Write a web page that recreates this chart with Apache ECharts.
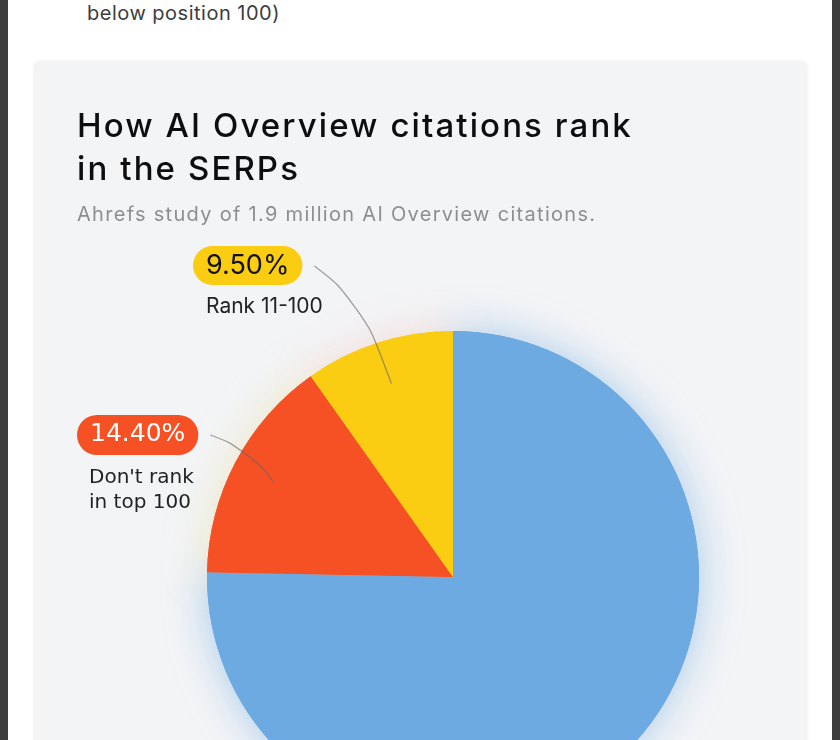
<!DOCTYPE html>
<html>
<head>
<meta charset="utf-8">
<script src="https://cdn.jsdelivr.net/npm/echarts@6/dist/echarts.min.js"></script>
<style>
  html, body { margin: 0; padding: 0; }
  body { width: 840px; height: 740px; overflow: hidden; position: relative; background: #fff; font-family: Inter, sans-serif; }
  .edge { position: absolute; top: 0; height: 740px; width: 8px; background: #3e3e3e; }
  .lead { position: absolute; left: 87px; top: 1px; margin: 0; font-size: 20px; line-height: 24px; letter-spacing: 0.5px; color: #3d3d3d; }
  #card { position: absolute; left: 35px; top: 62px; width: 771px; height: 900px; background: #f3f4f6;
          border-radius: 5px; box-shadow: 0 0 4px rgba(0, 0, 0, 0.12); }
  #chart { position: absolute; left: 0; top: 0; width: 771px; height: 900px; }
  .title { position: absolute; left: 42px; top: 42px; margin: 0; font-size: 33px; line-height: 43px; font-weight: 500;
           letter-spacing: 2.1px; color: #0e0e0e; z-index: 2; }
  .sub { position: absolute; left: 42px; top: 140px; margin: 0; font-size: 20px; line-height: 24px;
         letter-spacing: 1.3px; color: #8e8e8e; z-index: 2; }
</style>
</head>
<body>
<div class="edge" style="left:0"></div>
<div class="edge" style="left:832px"></div>
<p class="lead">below position 100)</p>
<div id="card">
  <div id="chart"></div>
  <h1 class="title">How AI Overview citations rank<br>in the SERPs</h1>
  <p class="sub">Ahrefs study of 1.9 million AI Overview citations.</p>
</div>
<script>
// slices, clockwise from 12 o'clock
const categories = ['Rank 1-10', "Don't rank\nin top 100", 'Rank 11-100'];
const shares = [72.9, 14.4, 9.5];

const sliceColors = ['#6CAAE1', '#F65124', '#FACC12'];
const glowColors = ['rgba(108,170,225,0.55)', 'rgba(236,222,150,0.5)', 'rgba(246,175,155,0.35)'];

// where each callout sits (top-left of its pill), in chart pixels
const callouts = {
  1: { x: 42, y: 353, pill: 'oPill', names: ['oName', 'oName2'], font: '25px "DejaVu Sans"' },
  2: { x: 158, y: 184, pill: 'yPill', names: ['yName'], font: '27px Inter' }
};

const measureCtx = document.createElement('canvas').getContext('2d');
function textWidth(text, font) {
  measureCtx.font = font;
  return measureCtx.measureText(text).width;
}
const pct = v => v.toFixed(2) + '%';

const center = [418, 515];
const radius = 246;

const chart = echarts.init(document.getElementById('chart'));

const pieBase = {
  type: 'pie',
  center: center,
  startAngle: 90,
  silent: true,
  emphasis: { disabled: true },
  animation: false
};

const option = {
  animation: false,
  series: [
    {
      // glow underneath
      ...pieBase,
      radius: radius,
      z: 1,
      label: { show: false },
      labelLine: { show: false },
      data: shares.map((v, i) => ({
        value: v,
        name: categories[i],
        itemStyle: { color: sliceColors[i], shadowBlur: 42, shadowColor: glowColors[i] }
      }))
    },
    {
      ...pieBase,
      radius: radius,
      z: 2,
      label: { show: false },
      labelLine: { show: false },
      data: shares.map((v, i) => ({
        value: v,
        name: categories[i],
        itemStyle: { color: sliceColors[i] }
      }))
    },
    {
      // invisible ring that only carries the callouts
      ...pieBase,
      radius: 203,
      z: 5,
      itemStyle: { color: 'rgba(0,0,0,0)' },
      label: {
        show: true,
        position: 'outside',
        formatter: function (p) {
          const c = callouts[p.dataIndex];
          if (!c) return '';
          const lines = categories[p.dataIndex].split('\n');
          let s = '{' + c.pill + '|' + pct(shares[p.dataIndex]) + '}';
          lines.forEach((t, k) => {
            s += '\n{' + c.names[k] + '|' + t + '}';
          });
          return s;
        },
        rich: {
          yPill: {
            backgroundColor: '#FACC12', color: '#111', fontFamily: 'Inter', fontSize: 27,
            lineHeight: 39, padding: [6, 13, 6, 13], borderRadius: 20, align: 'left'
          },
          oPill: {
            backgroundColor: '#F65124', color: '#fff', fontFamily: 'DejaVu Sans', fontSize: 25,
            lineHeight: 40, padding: [7, 13, 8, 13], borderRadius: 20, align: 'left'
          },
          yName: {
            color: '#222', fontFamily: 'Inter', fontSize: 21, lineHeight: 44,
            padding: [0, 0, 0, 13], align: 'left'
          },
          oName: {
            color: '#222', fontFamily: 'DejaVu Sans', fontSize: 20, lineHeight: 46,
            padding: [0, 0, 0, 12], align: 'left'
          },
          oName2: {
            color: '#222', fontFamily: 'DejaVu Sans', fontSize: 20, lineHeight: 4,
            padding: [0, 0, 0, 12], align: 'left'
          }
        }
      },
      labelLine: {
        show: true,
        smooth: 0.5,
        length: 40,
        length2: 20,
        lineStyle: { color: 'rgba(100,100,100,0.6)', width: 1.3 }
      },
      labelLayout: function (params) {
        const c = callouts[params.dataIndex];
        if (!c || !params.labelLinePoints) return {};
        const p0 = params.labelLinePoints[0];
        const w = textWidth(pct(shares[params.dataIndex]), c.font) + 26;
        const p2 = [c.x + w + 12, c.y + 20];
        const p1 = [p2[0] + (p0[0] - p2[0]) * 0.6, p2[1] + (p0[1] - p2[1]) * 0.3];
        return {
          x: c.x,
          y: c.y,
          align: 'left',
          verticalAlign: 'top',
          labelLinePoints: [p0, p1, p2]
        };
      },
      data: shares.map((v, i) => ({
        value: v,
        name: categories[i],
        label: { show: !!callouts[i] },
        labelLine: { show: !!callouts[i] }
      }))
    }
  ]
};
chart.setOption(option);
</script>
</body>
</html>
